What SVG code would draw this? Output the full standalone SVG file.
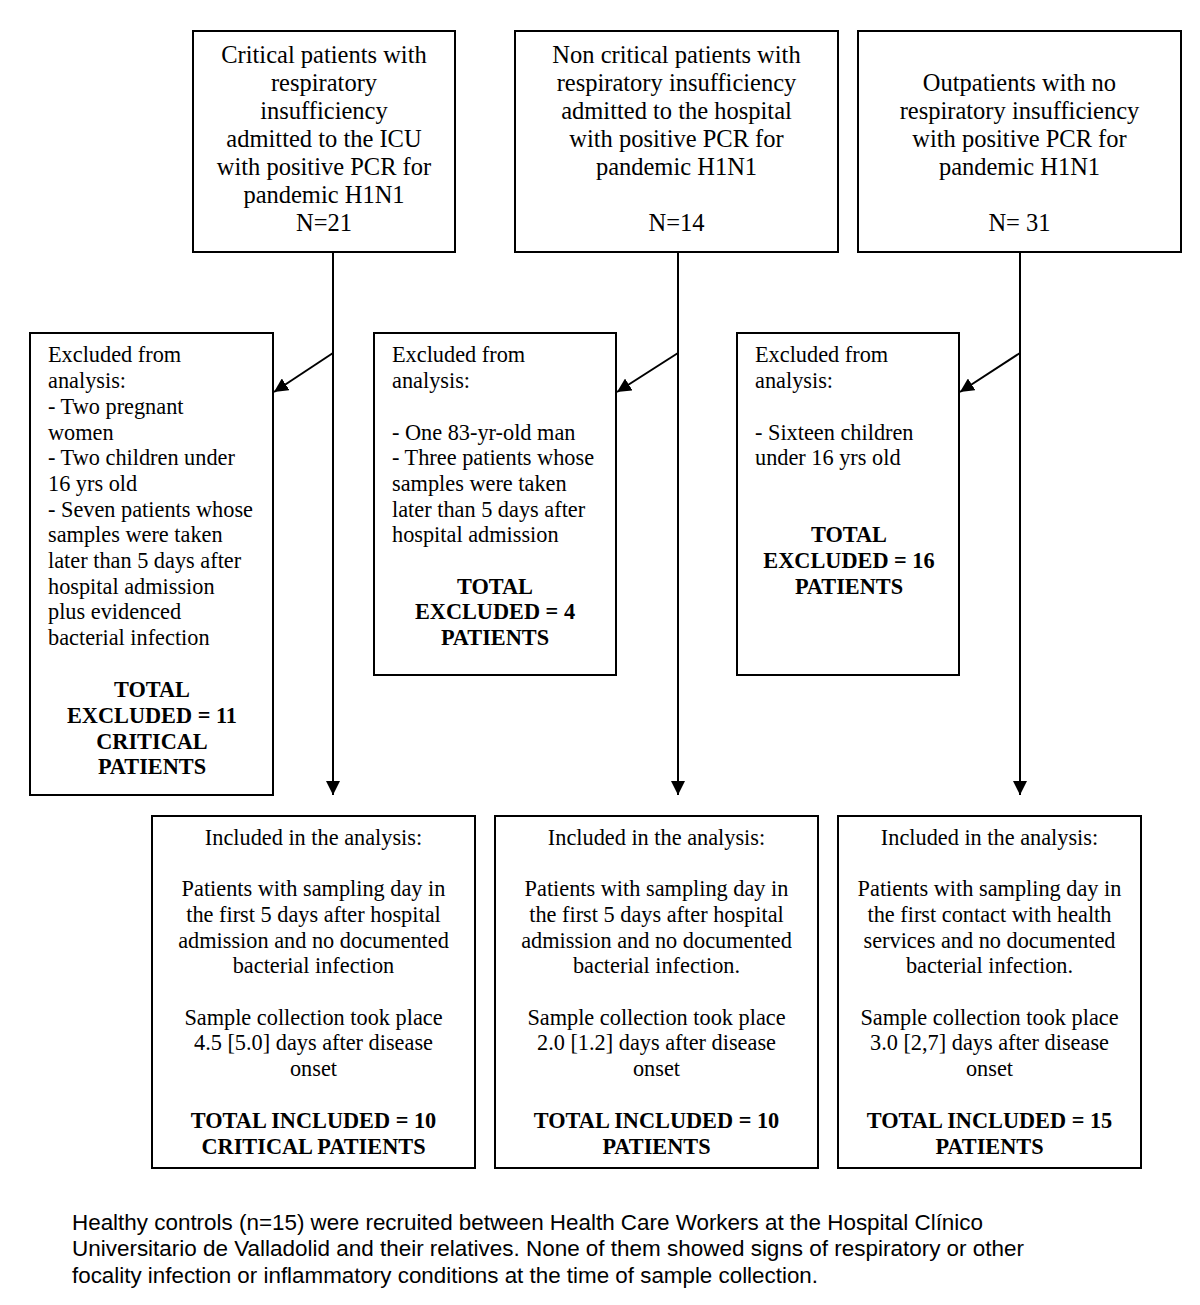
<svg xmlns="http://www.w3.org/2000/svg" width="1200" height="1305" viewBox="0 0 1200 1305">
<style>
.box{fill:#fff;stroke:#000;stroke-width:2}
.t{font-family:"Liberation Serif","Times New Roman",serif;font-size:22.3px;fill:#000}
.top{font-family:"Liberation Serif","Times New Roman",serif;font-size:24.5px;fill:#000;text-anchor:middle}
.c{text-anchor:middle}
.b{font-weight:bold}
.cap{font-family:"Liberation Sans",Arial,sans-serif;font-size:21.5px;fill:#000}
.ln{stroke:#000;stroke-width:2;fill:none}
</style>
<defs>
<marker id="ah" markerUnits="userSpaceOnUse" markerWidth="15" markerHeight="14" refX="14" refY="7" orient="auto" viewBox="0 0 15 14">
<path d="M0,0 L14,7 L0,14 z" fill="#000"/>
</marker>
</defs>
<rect width="1200" height="1305" fill="#fff"/>

<g id="connectors">
<line class="ln" x1="333" y1="252" x2="333" y2="795" marker-end="url(#ah)"/>
<line class="ln" x1="678" y1="252" x2="678" y2="795" marker-end="url(#ah)"/>
<line class="ln" x1="1020" y1="252" x2="1020" y2="795" marker-end="url(#ah)"/>
<line class="ln" x1="333" y1="353" x2="274" y2="392" marker-end="url(#ah)"/>
<line class="ln" x1="678" y1="353" x2="617" y2="392" marker-end="url(#ah)"/>
<line class="ln" x1="1020" y1="353" x2="960" y2="392" marker-end="url(#ah)"/>
</g>

<g id="top1">
<rect class="box" x="193" y="31" width="262" height="221"/>
<text class="top" x="324" y="63">Critical patients with</text>
<text class="top" x="324" y="91">respiratory</text>
<text class="top" x="324" y="119">insufficiency</text>
<text class="top" x="324" y="147">admitted to the ICU</text>
<text class="top" x="324" y="175">with positive PCR for</text>
<text class="top" x="324" y="203">pandemic H1N1</text>
<text class="top" x="324" y="231">N=21</text>
</g>

<g id="top2">
<rect class="box" x="515" y="31" width="323" height="221"/>
<text class="top" x="676.5" y="63">Non critical patients with</text>
<text class="top" x="676.5" y="91">respiratory insufficiency</text>
<text class="top" x="676.5" y="119">admitted to the hospital</text>
<text class="top" x="676.5" y="147">with positive PCR for</text>
<text class="top" x="676.5" y="175">pandemic H1N1</text>
<text class="top" x="676.5" y="231">N=14</text>
</g>

<g id="top3">
<rect class="box" x="858" y="31" width="323" height="221"/>
<text class="top" x="1019.5" y="91">Outpatients with no</text>
<text class="top" x="1019.5" y="119">respiratory insufficiency</text>
<text class="top" x="1019.5" y="147">with positive PCR for</text>
<text class="top" x="1019.5" y="175">pandemic H1N1</text>
<text class="top" x="1019.5" y="231">N= 31</text>
</g>

<g id="excl1">
<rect class="box" x="30" y="333" width="243" height="462"/>
<text class="t" x="48" y="362">Excluded from</text>
<text class="t" x="48" y="388">analysis:</text>
<text class="t" x="48" y="414">- Two pregnant</text>
<text class="t" x="48" y="440">women</text>
<text class="t" x="48" y="465">- Two children under</text>
<text class="t" x="48" y="491">16 yrs old</text>
<text class="t" x="48" y="517">- Seven patients whose</text>
<text class="t" x="48" y="542">samples were taken</text>
<text class="t" x="48" y="568">later than 5 days after</text>
<text class="t" x="48" y="594">hospital admission</text>
<text class="t" x="48" y="619">plus evidenced</text>
<text class="t" x="48" y="645">bacterial infection</text>
<text class="t c b" x="152" y="697">TOTAL</text>
<text class="t c b" x="152" y="723">EXCLUDED = 11</text>
<text class="t c b" x="152" y="749">CRITICAL</text>
<text class="t c b" x="152" y="774">PATIENTS</text>
</g>

<g id="excl2">
<rect class="box" x="374" y="333" width="242" height="342"/>
<text class="t" x="392" y="362">Excluded from</text>
<text class="t" x="392" y="388">analysis:</text>
<text class="t" x="392" y="440">- One 83-yr-old man</text>
<text class="t" x="392" y="465">- Three patients whose</text>
<text class="t" x="392" y="491">samples were taken</text>
<text class="t" x="392" y="517">later than 5 days after</text>
<text class="t" x="392" y="542">hospital admission</text>
<text class="t c b" x="495" y="594">TOTAL</text>
<text class="t c b" x="495" y="619">EXCLUDED = 4</text>
<text class="t c b" x="495" y="645">PATIENTS</text>
</g>

<g id="excl3">
<rect class="box" x="737" y="333" width="222" height="342"/>
<text class="t" x="755" y="362">Excluded from</text>
<text class="t" x="755" y="388">analysis:</text>
<text class="t" x="755" y="440">- Sixteen children</text>
<text class="t" x="755" y="465">under 16 yrs old</text>
<text class="t c b" x="849" y="542">TOTAL</text>
<text class="t c b" x="849" y="568">EXCLUDED = 16</text>
<text class="t c b" x="849" y="594">PATIENTS</text>
</g>

<g id="incl1">
<rect class="box" x="152" y="816" width="323" height="352"/>
<text class="t c" x="313.5" y="845">Included in the analysis:</text>
<text class="t c" x="313.5" y="896">Patients with sampling day in</text>
<text class="t c" x="313.5" y="922">the first 5 days after hospital</text>
<text class="t c" x="313.5" y="948">admission and no documented</text>
<text class="t c" x="313.5" y="973">bacterial infection</text>
<text class="t c" x="313.5" y="1025">Sample collection took place</text>
<text class="t c" x="313.5" y="1050">4.5 [5.0] days after disease</text>
<text class="t c" x="313.5" y="1076">onset</text>
<text class="t c b" x="313.5" y="1128">TOTAL INCLUDED = 10</text>
<text class="t c b" x="313.5" y="1154">CRITICAL PATIENTS</text>
</g>

<g id="incl2">
<rect class="box" x="495" y="816" width="323" height="352"/>
<text class="t c" x="656.5" y="845">Included in the analysis:</text>
<text class="t c" x="656.5" y="896">Patients with sampling day in</text>
<text class="t c" x="656.5" y="922">the first 5 days after hospital</text>
<text class="t c" x="656.5" y="948">admission and no documented</text>
<text class="t c" x="656.5" y="973">bacterial infection.</text>
<text class="t c" x="656.5" y="1025">Sample collection took place</text>
<text class="t c" x="656.5" y="1050">2.0 [1.2] days after disease</text>
<text class="t c" x="656.5" y="1076">onset</text>
<text class="t c b" x="656.5" y="1128">TOTAL INCLUDED = 10</text>
<text class="t c b" x="656.5" y="1154">PATIENTS</text>
</g>

<g id="incl3">
<rect class="box" x="838" y="816" width="303" height="352"/>
<text class="t c" x="989.5" y="845">Included in the analysis:</text>
<text class="t c" x="989.5" y="896">Patients with sampling day in</text>
<text class="t c" x="989.5" y="922">the first contact with health</text>
<text class="t c" x="989.5" y="948">services and no documented</text>
<text class="t c" x="989.5" y="973">bacterial infection.</text>
<text class="t c" x="989.5" y="1025">Sample collection took place</text>
<text class="t c" x="989.5" y="1050">3.0 [2,7] days after disease</text>
<text class="t c" x="989.5" y="1076">onset</text>
<text class="t c b" x="989.5" y="1128">TOTAL INCLUDED = 15</text>
<text class="t c b" x="989.5" y="1154">PATIENTS</text>
</g>

<g id="caption">
<text class="cap" x="72" y="1230" textLength="911" lengthAdjust="spacingAndGlyphs">Healthy controls (n=15) were recruited between Health Care Workers at the Hospital Clínico</text>
<text class="cap" x="72" y="1256" textLength="952" lengthAdjust="spacingAndGlyphs">Universitario de Valladolid and their relatives. None of them showed signs of respiratory or other</text>
<text class="cap" x="72" y="1283" textLength="746" lengthAdjust="spacingAndGlyphs">focality infection or inflammatory conditions at the time of sample collection.</text>
</g>
</svg>
